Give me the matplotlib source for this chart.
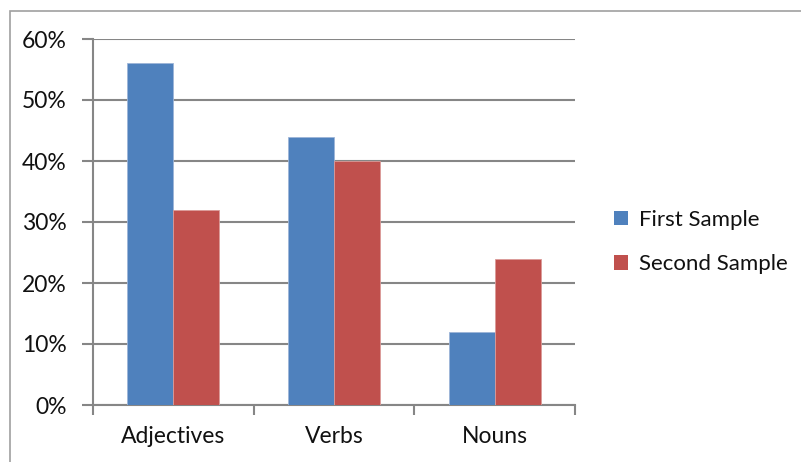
import matplotlib.pyplot as plt
import numpy as np
from matplotlib.patches import Rectangle, Patch

categories = ["Adjectives", "Verbs", "Nouns"]
first_sample = [56, 44, 12]
second_sample = [32, 40, 24]
series_names = ["First Sample", "Second Sample"]
y_ticks = [0, 10, 20, 30, 40, 50, 60]

blue = "#4F81BD"
red = "#C0504D"
grid = "#868686"

plt.rcParams["font.family"] = ["Lato", "DejaVu Sans"]
fs = 16.5

fig = plt.figure(figsize=(8.01, 4.62), dpi=100)
ax = fig.add_axes([93 / 801, 57 / 462, 482 / 801, 366 / 462])

x = np.arange(len(categories))
w = 46 / 161
ax.bar(x - w / 2, first_sample, w, color=blue, edgecolor="#9DB5D8", linewidth=0.6, zorder=3)
ax.bar(x + w / 2, second_sample, w, color=red, edgecolor="#DB9A98", linewidth=0.6, zorder=3)

ax.set_xlim(-0.5, 2.5)
ax.set_ylim(0, 60)
ax.set_yticks(y_ticks)
ax.set_yticklabels([f"{v}%" for v in y_ticks])
ax.yaxis.grid(True, color=grid, linewidth=1.5, zorder=0)

ax.set_xticks(x)
ax.set_xticklabels(categories)
ax.set_xticks([-0.5, 0.5, 1.5, 2.5], minor=True)
ax.tick_params(axis="x", which="major", length=0, pad=15, labelsize=fs, labelcolor="#111111")
ax.tick_params(axis="x", which="minor", length=7, width=1.5, color=grid)
ax.tick_params(axis="y", length=8, width=1.5, color=grid, pad=11, labelsize=fs, labelcolor="#111111")

for s in ["top", "right"]:
    ax.spines[s].set_visible(False)
for s in ["left", "bottom"]:
    ax.spines[s].set_color(grid)
    ax.spines[s].set_linewidth(1.5)

handles = [Patch(facecolor=blue), Patch(facecolor=red)]
leg = fig.legend(handles, series_names, loc="center left", bbox_to_anchor=(614 / 801, 220 / 462),
                 frameon=False, fontsize=16, borderpad=0, borderaxespad=0,
                 handlelength=0.62, handleheight=0.62,
                 handletextpad=0.5, labelspacing=1.1)
for t in leg.get_texts():
    t.set_color("#111111")

fig.patches.append(Rectangle((10 / 801, -0.1), 1.2, (462 - 11) / 462 + 0.1,
                             transform=fig.transFigure, fill=False,
                             edgecolor="#A0A0A0", linewidth=1.2))

fig.savefig("out.png", dpi=100)
